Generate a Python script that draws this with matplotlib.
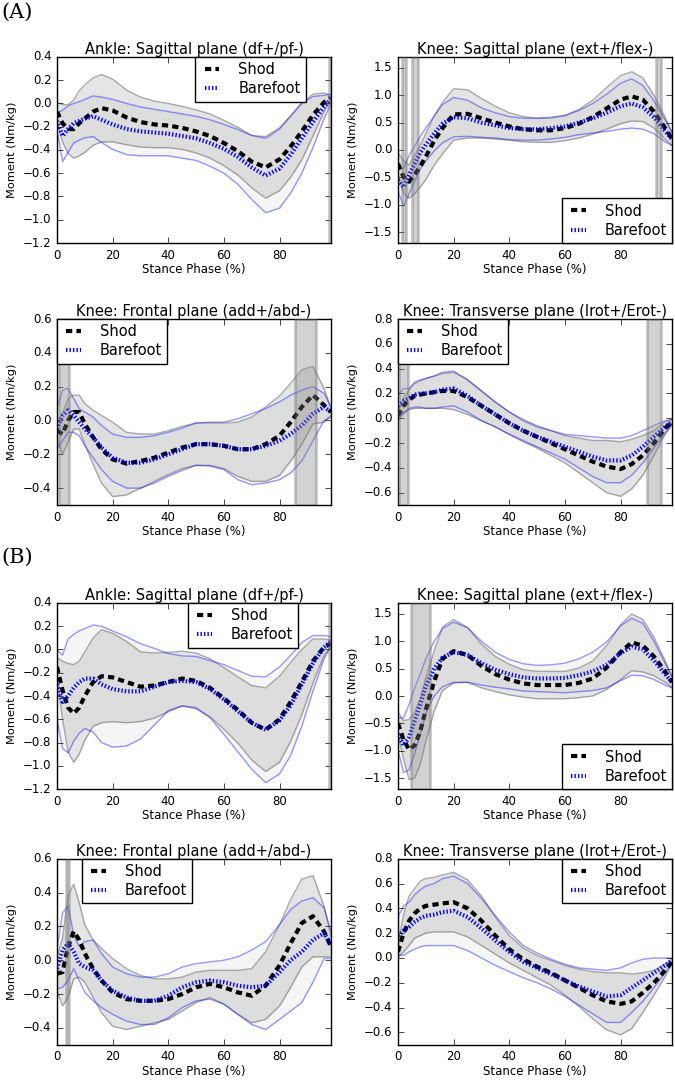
import numpy as np
import matplotlib
matplotlib.use('Agg')
import matplotlib.pyplot as plt

plt.style.use('classic')
plt.rcParams['font.family'] = ['DejaVu Sans']
plt.rcParams['figure.facecolor'] = 'white'
plt.rcParams['savefig.facecolor'] = 'white'

#
# stance phase sample points (%)
#
stance = [0, 2, 4, 6, 8, 10, 13, 16, 20, 25, 30, 35, 40, 45, 50,
          55, 60, 65, 70, 75, 80, 84, 88, 92, 96, 98.5]

#
# (A) ankle sagittal
#
a_ankle_shod = [-0.07, -0.17, -0.22, -0.22, -0.17, -0.13, -0.07, -0.04, -0.06, -0.12, -0.16, -0.18, -0.19,
                -0.21, -0.24, -0.28, -0.34, -0.41, -0.50, -0.55, -0.48, -0.37, -0.24, -0.10, 0.01, 0.05]
a_ankle_shod_sd = [0.08, 0.16, 0.21, 0.25, 0.28, 0.29, 0.29, 0.29, 0.27, 0.235, 0.215, 0.2, 0.19,
                   0.185, 0.185, 0.19, 0.195, 0.205, 0.225, 0.265, 0.27, 0.265, 0.245, 0.18, 0.08, 0.02]
a_ankle_bare = [-0.15, -0.28, -0.22, -0.17, -0.15, -0.13, -0.11, -0.14, -0.18, -0.22, -0.24, -0.25, -0.26,
                -0.28, -0.30, -0.34, -0.39, -0.46, -0.55, -0.62, -0.56, -0.44, -0.30, -0.16, -0.03, 0.04]
a_ankle_bare_sd = [0.07, 0.22, 0.2, 0.17, 0.165, 0.165, 0.175, 0.195, 0.215, 0.22, 0.21, 0.2, 0.19,
                   0.19, 0.19, 0.2, 0.21, 0.235, 0.275, 0.32, 0.34, 0.33, 0.3, 0.22, 0.1, 0.04]

#
# (A) knee sagittal
#
a_ksag_shod = [-0.25, -0.49, -0.58, -0.45, -0.3, -0.12, 0.17, 0.4, 0.65, 0.66, 0.58, 0.5, 0.43,
               0.38, 0.36, 0.36, 0.4, 0.48, 0.6, 0.76, 0.92, 0.98, 0.92, 0.7, 0.4, 0.2]
a_ksag_shod_sd = [0.2, 0.3, 0.3, 0.35, 0.38, 0.42, 0.45, 0.47, 0.47, 0.44, 0.36, 0.3, 0.25,
                  0.23, 0.22, 0.22, 0.23, 0.26, 0.31, 0.38, 0.44, 0.45, 0.4, 0.3, 0.2, 0.12]
a_ksag_bare = [-0.55, -0.68, -0.45, -0.25, -0.05, 0.1, 0.3, 0.48, 0.6, 0.58, 0.5, 0.45, 0.4,
               0.38, 0.38, 0.4, 0.43, 0.5, 0.58, 0.68, 0.8, 0.85, 0.78, 0.6, 0.35, 0.2]
a_ksag_bare_sd = [0.2, 0.35, 0.35, 0.32, 0.3, 0.3, 0.32, 0.35, 0.36, 0.33, 0.27, 0.23, 0.21,
                  0.2, 0.2, 0.2, 0.2, 0.22, 0.27, 0.34, 0.42, 0.45, 0.4, 0.3, 0.2, 0.12]

#
# (A) knee frontal
#
a_kfro_shod = [-0.06, -0.08, 0.0, 0.05, 0.05, -0.02, -0.1, -0.17, -0.23, -0.255, -0.24, -0.22, -0.19,
               -0.16, -0.14, -0.14, -0.15, -0.17, -0.17, -0.14, -0.09, -0.01, 0.08, 0.15, 0.09, 0.05]
a_kfro_shod_sd = [0.05, 0.12, 0.13, 0.1, 0.1, 0.12, 0.16, 0.2, 0.22, 0.185, 0.16, 0.14, 0.13,
                  0.125, 0.125, 0.125, 0.135, 0.16, 0.19, 0.22, 0.235, 0.23, 0.22, 0.17, 0.1, 0.02]
a_kfro_bare = [-0.05, 0.03, 0.06, 0.03, -0.01, -0.05, -0.1, -0.16, -0.22, -0.25, -0.25, -0.23, -0.2,
               -0.17, -0.14, -0.14, -0.15, -0.17, -0.17, -0.15, -0.12, -0.08, -0.03, 0.04, 0.08, 0.05]
a_kfro_bare_sd = [0.12, 0.15, 0.13, 0.1, 0.08, 0.1, 0.12, 0.13, 0.14, 0.15, 0.15, 0.14, 0.13,
                  0.125, 0.125, 0.13, 0.14, 0.18, 0.21, 0.22, 0.23, 0.23, 0.21, 0.16, 0.08, 0.03]

#
# (A) knee transverse
#
a_ktra_shod = [0.02, 0.1, 0.15, 0.18, 0.19, 0.2, 0.21, 0.22, 0.22, 0.17, 0.1, 0.03, -0.04,
               -0.1, -0.15, -0.2, -0.25, -0.3, -0.35, -0.39, -0.41, -0.37, -0.3, -0.2, -0.08, -0.03]
a_ktra_shod_sd = [0.04, 0.06, 0.08, 0.1, 0.11, 0.12, 0.13, 0.14, 0.15, 0.14, 0.12, 0.1, 0.09,
                  0.09, 0.09, 0.1, 0.11, 0.14, 0.17, 0.21, 0.22, 0.2, 0.16, 0.1, 0.05, 0.02]
a_ktra_bare = [0.1, 0.14, 0.16, 0.19, 0.2, 0.2, 0.21, 0.23, 0.24, 0.18, 0.1, 0.03, -0.04,
               -0.1, -0.15, -0.19, -0.23, -0.27, -0.31, -0.34, -0.34, -0.3, -0.23, -0.15, -0.07, -0.03]
a_ktra_bare_sd = [0.08, 0.1, 0.08, 0.1, 0.11, 0.12, 0.13, 0.14, 0.14, 0.13, 0.12, 0.1, 0.09,
                  0.08, 0.08, 0.09, 0.1, 0.13, 0.16, 0.18, 0.18, 0.16, 0.13, 0.09, 0.05, 0.02]

#
# (B) ankle sagittal
#
b_ankle_shod = [-0.15, -0.35, -0.5, -0.55, -0.5, -0.4, -0.28, -0.23, -0.24, -0.28, -0.32, -0.31, -0.28,
                -0.25, -0.27, -0.33, -0.42, -0.52, -0.63, -0.69, -0.6, -0.45, -0.28, -0.1, 0.02, 0.05]
b_ankle_shod_sd = [0.08, 0.25, 0.38, 0.42, 0.4, 0.38, 0.38, 0.4, 0.38, 0.35, 0.3, 0.28, 0.255,
                   0.235, 0.24, 0.25, 0.265, 0.285, 0.32, 0.36, 0.37, 0.34, 0.28, 0.19, 0.07, 0.03]
b_ankle_bare = [-0.3, -0.45, -0.4, -0.33, -0.28, -0.25, -0.25, -0.3, -0.34, -0.36, -0.36, -0.32, -0.28,
                -0.27, -0.28, -0.34, -0.43, -0.53, -0.63, -0.69, -0.61, -0.48, -0.3, -0.12, 0.02, 0.07]
b_ankle_bare_sd = [0.3, 0.4, 0.49, 0.46, 0.44, 0.43, 0.46, 0.5, 0.5, 0.47, 0.41, 0.33, 0.245,
                   0.215, 0.22, 0.245, 0.3, 0.35, 0.4, 0.455, 0.46, 0.43, 0.36, 0.24, 0.1, 0.04]

#
# (B) knee sagittal
#
b_ksag_shod = [-0.5, -0.8, -0.98, -0.9, -0.65, -0.25, 0.27, 0.68, 0.82, 0.75, 0.55, 0.4, 0.3,
               0.23, 0.2, 0.2, 0.2, 0.24, 0.32, 0.52, 0.8, 0.98, 0.92, 0.72, 0.45, 0.25]
b_ksag_shod_sd = [0.2, 0.35, 0.55, 0.6, 0.6, 0.58, 0.55, 0.58, 0.58, 0.5, 0.4, 0.32, 0.28,
                  0.25, 0.25, 0.25, 0.25, 0.27, 0.32, 0.4, 0.5, 0.52, 0.48, 0.35, 0.2, 0.1]
b_ksag_bare = [-0.7, -0.9, -0.75, -0.45, -0.15, 0.18, 0.5, 0.7, 0.8, 0.75, 0.6, 0.48, 0.4,
               0.34, 0.32, 0.32, 0.33, 0.38, 0.45, 0.57, 0.78, 0.9, 0.85, 0.65, 0.4, 0.25]
b_ksag_bare_sd = [0.3, 0.5, 0.6, 0.6, 0.55, 0.5, 0.5, 0.53, 0.55, 0.5, 0.4, 0.32, 0.27,
                  0.25, 0.24, 0.25, 0.27, 0.3, 0.35, 0.42, 0.5, 0.52, 0.48, 0.35, 0.2, 0.1]

#
# (B) knee frontal
#
b_kfro_shod = [-0.08, -0.07, 0.08, 0.17, 0.12, 0.04, -0.05, -0.12, -0.19, -0.23, -0.24, -0.24, -0.23,
               -0.2, -0.16, -0.14, -0.16, -0.19, -0.21, -0.15, -0.03, 0.1, 0.22, 0.26, 0.17, 0.08]
b_kfro_shod_sd = [0.1, 0.2, 0.3, 0.28, 0.22, 0.17, 0.17, 0.19, 0.2, 0.18, 0.15, 0.13, 0.12,
                  0.1, 0.09, 0.08, 0.1, 0.13, 0.16, 0.2, 0.24, 0.26, 0.26, 0.24, 0.15, 0.06]
b_kfro_bare = [-0.05, 0.06, 0.1, 0.05, -0.02, -0.04, -0.06, -0.12, -0.18, -0.22, -0.24, -0.24, -0.21,
               -0.16, -0.13, -0.12, -0.13, -0.15, -0.16, -0.15, -0.07, 0.0, 0.05, 0.12, 0.16, 0.09]
b_kfro_bare_sd = [0.12, 0.22, 0.22, 0.1, 0.1, 0.15, 0.18, 0.16, 0.14, 0.14, 0.14, 0.14, 0.13,
                  0.12, 0.11, 0.11, 0.13, 0.17, 0.22, 0.26, 0.28, 0.3, 0.3, 0.25, 0.15, 0.08]

#
# (B) knee transverse
#
b_ktra_shod = [0.05, 0.2, 0.3, 0.36, 0.4, 0.42, 0.43, 0.44, 0.45, 0.4, 0.3, 0.18, 0.07,
               -0.01, -0.07, -0.12, -0.18, -0.24, -0.3, -0.35, -0.37, -0.35, -0.28, -0.2, -0.1, -0.03]
b_ktra_shod_sd = [0.05, 0.15, 0.2, 0.2, 0.22, 0.22, 0.22, 0.23, 0.24, 0.23, 0.2, 0.15, 0.11,
                  0.09, 0.09, 0.1, 0.12, 0.15, 0.19, 0.23, 0.25, 0.22, 0.16, 0.1, 0.05, 0.02]
b_ktra_bare = [0.18, 0.22, 0.25, 0.29, 0.32, 0.34, 0.35, 0.37, 0.38, 0.33, 0.24, 0.14, 0.05,
               -0.03, -0.08, -0.13, -0.18, -0.23, -0.27, -0.31, -0.3, -0.24, -0.18, -0.12, -0.06, -0.02]
b_ktra_bare_sd = [0.15, 0.2, 0.2, 0.22, 0.23, 0.24, 0.25, 0.27, 0.28, 0.27, 0.24, 0.2, 0.16,
                  0.13, 0.12, 0.12, 0.13, 0.15, 0.18, 0.21, 0.22, 0.2, 0.17, 0.12, 0.06, 0.02]

#
# titles, y limits, y ticks, legend place and highlighted stance ranges
#
titles = ['Ankle: Sagittal plane (df+/pf-)', 'Knee: Sagittal plane (ext+/flex-)',
          'Knee: Frontal plane (add+/abd-)', 'Knee: Transverse plane (Irot+/Erot-)']
ylims = [(-1.2, 0.4), (-1.7, 1.7), (-0.5, 0.6), (-0.7, 0.8)]
ytick_sets = [np.arange(-1.2, 0.41, 0.2), np.arange(-1.5, 1.51, 0.5),
              np.arange(-0.4, 0.61, 0.2), np.arange(-0.6, 0.81, 0.2)]

a_spans = [[(97.7, 98.5)], [(1.5, 3.0), (4.9, 7.3), (92.6, 94.7)],
           [(0.6, 4.2), (85.4, 93.0)], [(0.4, 3.7), (89.6, 94.7)]]
b_spans = [[(97.7, 98.5)], [(4.5, 11.6)], [(3.1, 4.2)], []]

# legend location and anchor (axes fraction)
a_legend = [('upper right', (0.908, 1.0)), ('lower right', (1.0, 0.0)),
            ('upper left', (0.0, 1.0)), ('upper left', (0.0, 1.0))]
b_legend = [('upper right', (0.88, 1.0)), ('lower right', (1.0, 0.0)),
            ('upper left', (0.09, 1.0)), ('upper right', (1.0, 1.0))]

a_data = [(a_ankle_shod, a_ankle_shod_sd, a_ankle_bare, a_ankle_bare_sd),
          (a_ksag_shod, a_ksag_shod_sd, a_ksag_bare, a_ksag_bare_sd),
          (a_kfro_shod, a_kfro_shod_sd, a_kfro_bare, a_kfro_bare_sd),
          (a_ktra_shod, a_ktra_shod_sd, a_ktra_bare, a_ktra_bare_sd)]
b_data = [(b_ankle_shod, b_ankle_shod_sd, b_ankle_bare, b_ankle_bare_sd),
          (b_ksag_shod, b_ksag_shod_sd, b_ksag_bare, b_ksag_bare_sd),
          (b_kfro_shod, b_kfro_shod_sd, b_kfro_bare, b_kfro_bare_sd),
          (b_ktra_shod, b_ktra_shod_sd, b_ktra_bare, b_ktra_bare_sd)]

#
# figure layout (axes placed by hand)
#
fig = plt.figure(figsize=(6.75, 10.81), dpi=100)

lefts = [0.0844, 0.5896, 0.0844, 0.5896]
a_bottoms = [0.7752, 0.7752, 0.5328, 0.5328]
b_bottoms = [0.2701, 0.2701, 0.0335, 0.0335]
w, h = 0.406, 0.1721

x = np.array(stance)


def draw_panel(ax, data, i, spans, leg):
    shod, shod_sd, bare, bare_sd = [np.array(d) for d in data]
    # barefoot band (light)
    ax.fill_between(x, bare - bare_sd, bare + bare_sd, facecolor='0.5',
                    alpha=0.08, linewidth=0)
    # shod band (darker)
    ax.fill_between(x, shod - shod_sd, shod + shod_sd, facecolor='0.5',
                    alpha=0.2, linewidth=0)
    ax.plot(x, shod + shod_sd, color='0.45', alpha=0.6, lw=1)
    ax.plot(x, shod - shod_sd, color='0.45', alpha=0.6, lw=1)
    ax.plot(x, bare + bare_sd, color='b', alpha=0.4, lw=1)
    ax.plot(x, bare - bare_sd, color='b', alpha=0.4, lw=1)
    ax.plot(x, shod, color='k', lw=3, dashes=(4.5, 3), label='Shod')
    ax.plot(x, bare, color='b', lw=3, dashes=(1, 1.5), label='Barefoot')
    for s0, s1 in spans:
        ax.axvspan(s0, s1, facecolor='0.5', edgecolor='0.4', alpha=0.35,
                   linewidth=2, zorder=5)
    ax.set_xlim(0, 98.5)
    ax.set_ylim(ylims[i])
    ax.set_yticks(ytick_sets[i])
    ax.set_xticks([0, 20, 40, 60, 80])
    ax.tick_params(labelsize=8.5)
    ax.set_title(titles[i], fontsize=10.5, pad=2)
    ax.set_xlabel('Stance Phase (%)', fontsize=8.5, labelpad=1)
    ax.set_ylabel('Moment (Nm/kg)', fontsize=8.2, labelpad=4)
    ax.legend(loc=leg[0], bbox_to_anchor=leg[1], borderaxespad=0,
              fontsize=10.5, fancybox=False, handlelength=1.6,
              handletextpad=1.0, labelspacing=0.3, borderpad=0.35)


for i in range(4):
    ax = fig.add_axes([lefts[i], a_bottoms[i], w, h])
    draw_panel(ax, a_data[i], i, a_spans[i], a_legend[i])

for i in range(4):
    ax = fig.add_axes([lefts[i], b_bottoms[i], w, h])
    draw_panel(ax, b_data[i], i, b_spans[i], b_legend[i])

fig.text(0.002, 0.997, '(A)', family='DejaVu Serif', fontsize=15, va='top')
fig.text(0.002, 0.493, '(B)', family='DejaVu Serif', fontsize=15, va='top')

fig.savefig('out.png', dpi=100)
